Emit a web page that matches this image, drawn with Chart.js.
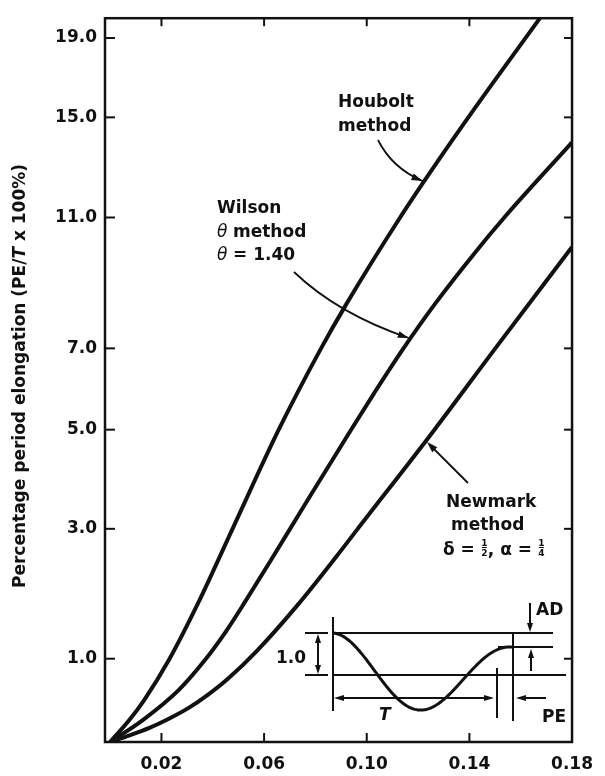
<!DOCTYPE html>
<html>
<head>
<meta charset="utf-8">
<script src="https://cdn.jsdelivr.net/npm/chart.js@4.4.1/dist/chart.umd.min.js"></script>
<style>
html,body{margin:0;padding:0;background:#fff;}
#wrap{width:605px;height:776px;position:relative;}
</style>
</head>
<body>
<div id="wrap"><canvas id="c"></canvas></div>
<script>
// ---------- data ----------
const xTickValues = [0.02, 0.06, 0.10, 0.14, 0.18];
const yTickValues = [1, 3, 5, 7, 11, 15, 19];

// The printed y axis is not evenly spaced: tick values and their relative heights on the axis
const yAxisBreakValues = [0, 1, 3, 5, 7, 11, 15, 19, 20];
const yAxisBreakHeights = [0, 84, 215, 315, 397, 529, 630, 710, 730];

const houboltX = [0, 0.0074, 0.0132, 0.0230, 0.0347, 0.0477, 0.0657, 0.0822, 0.0921, 0.1130, 0.1267, 0.1429, 0.1675];
const houboltY = [0, 0.26, 0.50, 0.99, 1.89, 3.0, 5.0, 7.0, 8.36, 11.0, 13.1, 15.6, 20.0];

const wilsonX = [0, 0.0126, 0.0266, 0.0371, 0.0453, 0.0528, 0.0624, 0.0765, 0.0939, 0.1029, 0.1143, 0.1266, 0.1417, 0.1536, 0.1800];
const wilsonY = [0, 0.26, 0.62, 0.99, 1.43, 1.89, 2.50, 3.54, 5.0, 5.90, 7.0, 8.36, 9.88, 11.0, 14.0];

const newmarkX = [0, 0.0076, 0.0153, 0.0229, 0.0306, 0.0382, 0.0459, 0.0574, 0.0727, 0.0881, 0.0961, 0.1264, 0.1501, 0.1800];
const newmarkY = [0, 0.08, 0.17, 0.28, 0.41, 0.57, 0.76, 1.13, 1.81, 2.57, 2.98, 5.0, 7.0, 10.1];

// ---------- piecewise y scale ----------
const H = yAxisBreakHeights[yAxisBreakHeights.length - 1];
function valueToFrac(v) {
  const b = yAxisBreakValues;
  if (v <= b[0]) return yAxisBreakHeights[0] / H;
  for (let i = 0; i < b.length - 1; i++) {
    if (v <= b[i + 1]) {
      const t = (v - b[i]) / (b[i + 1] - b[i]);
      return (yAxisBreakHeights[i] + t * (yAxisBreakHeights[i + 1] - yAxisBreakHeights[i])) / H;
    }
  }
  return 1;
}
function fracToValue(f) {
  const h = f * H, hs = yAxisBreakHeights, b = yAxisBreakValues;
  for (let i = 0; i < hs.length - 1; i++) {
    if (h <= hs[i + 1]) {
      const t = (h - hs[i]) / (hs[i + 1] - hs[i]);
      return b[i] + t * (b[i + 1] - b[i]);
    }
  }
  return b[b.length - 1];
}
class PiecewiseScale extends Chart.LinearScale {
  getPixelForValue(value) {
    if (value === null || value === undefined || isNaN(value)) return NaN;
    return this.getPixelForDecimal(valueToFrac(value));
  }
  getValueForPixel(pixel) {
    return fracToValue(this.getDecimalForPixel(pixel));
  }
}
PiecewiseScale.id = 'piecewise';
PiecewiseScale.defaults = Chart.LinearScale.defaults;
Chart.register(PiecewiseScale);

// ---------- helpers ----------
const FONT = '"DejaVu Sans", "Liberation Sans", sans-serif';
const INK = '#111';

function toPoints(xs, ys) { return xs.map((x, i) => ({ x: x, y: ys[i] })); }

function curveXAt(chart, di, py) {
  const pts = chart.getDatasetMeta(di).data;
  for (let i = 0; i < pts.length - 1; i++) {
    const a = pts[i], b = pts[i + 1];
    if ((a.y - py) * (b.y - py) <= 0 && a.y !== b.y) {
      return a.x + (py - a.y) / (b.y - a.y) * (b.x - a.x);
    }
  }
  return null;
}
function arrowHead(ctx, tx, ty, ang, len, w) {
  ctx.beginPath();
  ctx.moveTo(tx, ty);
  ctx.lineTo(tx - len * Math.cos(ang) + w / 2 * Math.sin(ang), ty - len * Math.sin(ang) - w / 2 * Math.cos(ang));
  ctx.lineTo(tx - len * Math.cos(ang) - w / 2 * Math.sin(ang), ty - len * Math.sin(ang) + w / 2 * Math.cos(ang));
  ctx.closePath();
  ctx.fill();
}
function line(ctx, x1, y1, x2, y2) {
  ctx.beginPath(); ctx.moveTo(x1, y1); ctx.lineTo(x2, y2); ctx.stroke();
}
function drawFraction(ctx, x, baseline, num, den) {
  ctx.save();
  ctx.font = '700 9px ' + FONT;
  ctx.textAlign = 'center';
  ctx.textBaseline = 'alphabetic';
  const w = 7;
  ctx.fillText(num, x + w / 2, baseline - 9);
  ctx.fillText(den, x + w / 2, baseline + 1);
  ctx.lineWidth = 1;
  line(ctx, x + 1, baseline - 7.5, x + w - 1, baseline - 7.5);
  ctx.restore();
  return w;
}

// ---------- decoration plugin ----------
const decor = {
  id: 'decor',
  afterDatasetsDraw(chart) {
    const ctx = chart.ctx, ca = chart.chartArea;
    const xs = chart.scales.x, ys = chart.scales.y;
    ctx.save();
    ctx.strokeStyle = INK; ctx.fillStyle = INK;

    // frame
    ctx.lineWidth = 2.5;
    ctx.strokeRect(ca.left, ca.top, ca.right - ca.left, ca.bottom - ca.top);

    // inward ticks
    ctx.lineWidth = 2;
    yTickValues.forEach(v => {
      const py = ys.getPixelForValue(v);
      line(ctx, ca.left, py, ca.left + 10, py);
      line(ctx, ca.right - 8, py, ca.right, py);
    });
    xTickValues.forEach(v => {
      const px = xs.getPixelForValue(v);
      if (px < ca.right - 3) {
        line(ctx, px, ca.bottom, px, ca.bottom - 9);
        line(ctx, px, ca.top, px, ca.top + 8);
      }
    });

    // y-axis title (rotated, mixed style)
    const parts = [
      ['700 17px ' + FONT, 'Percentage period elongation (PE/'],
      ['italic 700 17px ' + FONT, 'T'],
      ['700 17px ' + FONT, ' x 100%)']
    ];
    ctx.save();
    ctx.translate(21, 376);
    ctx.rotate(-Math.PI / 2);
    ctx.textBaseline = 'middle';
    ctx.textAlign = 'left';
    let total = 0;
    parts.forEach(p => { ctx.font = p[0]; total += ctx.measureText(p[1]).width; });
    let cx = -total / 2;
    parts.forEach(p => { ctx.font = p[0]; ctx.fillText(p[1], cx, 0); cx += ctx.measureText(p[1]).width; });
    ctx.restore();

    // annotation labels
    ctx.textAlign = 'left';
    ctx.textBaseline = 'alphabetic';
    ctx.font = '700 17px ' + FONT;
    ctx.fillText('Houbolt', 338, 107);
    ctx.fillText('method', 338, 131);

    ctx.fillText('Wilson', 217, 213);
    ctx.font = 'italic 400 17px ' + FONT;
    ctx.fillText('θ', 217, 237);
    ctx.fillText('θ', 217, 260);
    ctx.font = '700 17px ' + FONT;
    ctx.fillText('method', 233, 237);
    ctx.fillText('= 1.40', 233, 260);

    ctx.fillText('Newmark', 446, 507);
    ctx.fillText('method', 451, 530);
    let nx = 443;
    const nb = 555;
    ctx.fillText('δ =', nx, nb);
    nx += ctx.measureText('δ = ').width;
    nx += drawFraction(ctx, nx, nb, '1', '2');
    ctx.font = '700 17px ' + FONT;
    ctx.fillText(',', nx, nb);
    nx += ctx.measureText(', ').width;
    ctx.fillText('α =', nx, nb);
    nx += ctx.measureText('α = ').width;
    drawFraction(ctx, nx, nb, '1', '4');

    // Houbolt arrow
    ctx.lineWidth = 1.8;
    let ty = 181, tx = curveXAt(chart, 0, ty) - 2;
    ctx.beginPath();
    ctx.moveTo(378, 140);
    ctx.quadraticCurveTo(392, 168, tx, ty);
    ctx.stroke();
    arrowHead(ctx, tx, ty, Math.atan2(ty - 168, tx - 392), 11, 7);

    // Wilson arrow
    ty = 338; tx = curveXAt(chart, 1, ty) - 2;
    ctx.beginPath();
    ctx.moveTo(294, 272);
    ctx.quadraticCurveTo(338, 314, tx, ty);
    ctx.stroke();
    arrowHead(ctx, tx, ty, Math.atan2(ty - 314, tx - 338), 11, 7);

    // Newmark arrow
    ty = 442; tx = curveXAt(chart, 2, ty) + 2;
    const ang = Math.atan2(ty - 483, tx - 468);
    line(ctx, 468, 483, tx - 6 * Math.cos(ang), ty - 6 * Math.sin(ang));
    arrowHead(ctx, tx, ty, ang, 11, 7);

    // ---- inset sketch ----
    ctx.lineWidth = 2;
    line(ctx, 333, 617, 333, 711);       // left vertical
    line(ctx, 333, 633, 553, 633);       // top level
    line(ctx, 498, 647, 553, 647);       // decayed level
    line(ctx, 333, 675, 566, 675);       // zero line
    line(ctx, 305, 633, 328, 633);       // dimension extension
    line(ctx, 305, 675, 328, 675);
    line(ctx, 318, 640, 318, 668);       // 1.0 dimension
    arrowHead(ctx, 318, 634, -Math.PI / 2, 9, 6);
    arrowHead(ctx, 318, 674, Math.PI / 2, 9, 6);
    ctx.font = '700 17px ' + FONT;
    ctx.fillText('1.0', 276, 663);

    // damped cosine
    ctx.lineWidth = 3;
    ctx.beginPath();
    for (let px = 333; px <= 512; px++) {
      const t = (px - 333) / 179;
      const a = 42 - 14 * t;
      const py = 675 - a * Math.cos(2 * Math.PI * t);
      if (px === 333) ctx.moveTo(px, py); else ctx.lineTo(px, py);
    }
    ctx.stroke();

    // T dimension
    ctx.lineWidth = 2;
    line(ctx, 340, 698, 488, 698);
    arrowHead(ctx, 334, 698, Math.PI, 10, 6);
    arrowHead(ctx, 494, 698, 0, 10, 6);
    line(ctx, 497, 668, 497, 718);
    line(ctx, 513, 633, 513, 721);
    ctx.font = 'italic 700 17px ' + FONT;
    ctx.fillText('T', 379, 720);

    // PE
    ctx.font = '700 17px ' + FONT;
    line(ctx, 524, 698, 546, 698);
    arrowHead(ctx, 516, 698, Math.PI, 10, 6);
    ctx.fillText('PE', 542, 722);

    // AD
    line(ctx, 530, 603, 530, 626);
    arrowHead(ctx, 530, 632, Math.PI / 2, 9, 6);
    line(ctx, 531, 655, 531, 671);
    arrowHead(ctx, 531, 649, -Math.PI / 2, 9, 6);
    ctx.fillText('AD', 536, 615);

    ctx.restore();
  }
};

// ---------- chart ----------
const lineStyle = {
  borderColor: INK,
  borderWidth: 4,
  pointRadius: 0,
  fill: false,
  cubicInterpolationMode: 'monotone'
};

new Chart(document.getElementById('c'), {
  type: 'line',
  data: {
    datasets: [
      Object.assign({ label: 'Houbolt method', data: toPoints(houboltX, houboltY) }, lineStyle),
      Object.assign({ label: 'Wilson θ method, θ = 1.40', data: toPoints(wilsonX, wilsonY) }, lineStyle),
      Object.assign({ label: 'Newmark method, δ = 1/2, α = 1/4', data: toPoints(newmarkX, newmarkY) }, lineStyle)
    ]
  },
  options: {
    responsive: true,
    maintainAspectRatio: false,
    animation: false,
    layout: { padding: { top: 12, right: 25, left: 0, bottom: 0 } },
    plugins: { legend: { display: false }, tooltip: { enabled: false } },
    scales: {
      x: {
        type: 'linear',
        min: -0.002,
        max: 0.18,
        grid: { display: false, drawTicks: false },
        border: { display: false },
        afterBuildTicks: s => { s.ticks = xTickValues.map(v => ({ value: v })); },
        afterFit: s => { s.height = 34; },
        ticks: {
          autoSkip: false,
          maxRotation: 0,
          padding: 12,
          color: INK,
          font: { family: FONT, size: 17, weight: '700' },
          callback: v => Number(v).toFixed(2)
        }
      },
      y: {
        type: 'piecewise',
        min: 0,
        max: 20,
        grid: { display: false, drawTicks: false },
        border: { display: false },
        afterBuildTicks: s => { s.ticks = yTickValues.map(v => ({ value: v })); },
        afterFit: s => { s.width = 105; },
        ticks: {
          autoSkip: false,
          padding: 8,
          color: INK,
          font: { family: FONT, size: 17, weight: '700' },
          callback: v => Number(v).toFixed(1)
        }
      }
    }
  },
  plugins: [decor]
});
</script>
</body>
</html>
